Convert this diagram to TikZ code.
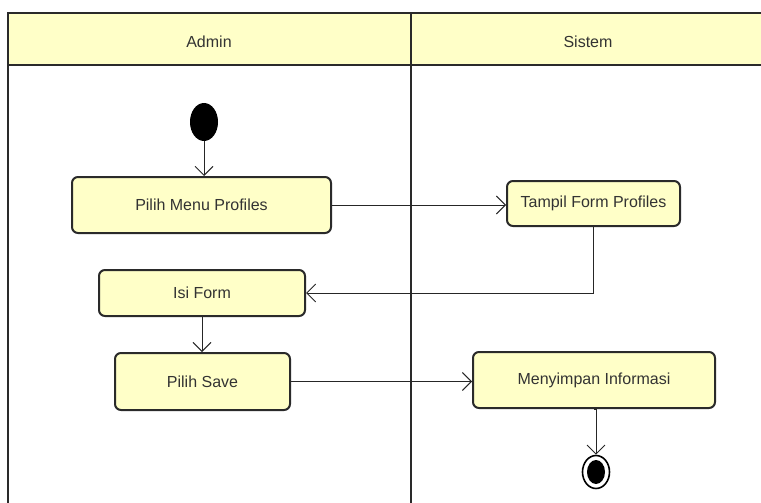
\documentclass[tikz,border=0pt]{standalone}
\usepackage{fontspec}
\setmainfont{Liberation Sans}
\usetikzlibrary{arrows.meta,shapes.geometric,calc}
\definecolor{laneyellow}{HTML}{FFFFC8}
\definecolor{boxyellow}{HTML}{FFFFC8}
\definecolor{edgedark}{HTML}{2A2A2A}
\tikzset{
  act/.style={draw=edgedark, line width=2pt, fill=boxyellow, rounded corners=6pt,
    font=\fontsize{16}{19}\selectfont, text=black!80, inner sep=0pt},
  flow/.style={draw=black!85, line width=0.9pt, -{Straight Barb[length=9pt,width=18pt,line width=0.9pt]}},
  lane/.style={draw=edgedark, line width=2.2pt},
  lanetitle/.style={font=\fontsize{16}{19}\selectfont, text=black!80}
}
\begin{document}
\begin{tikzpicture}[x=1pt,y=-1pt]
\useasboundingbox (0,0) rectangle (761,503);
% swimlane frame
\fill[laneyellow] (8,13) rectangle (761,65);
\draw[lane] (761,13) -- (8,13) -- (8,503);
\draw[lane] (8,65) -- (761,65);
\draw[lane] (411,13) -- (411,503);
\node[lanetitle] (admin) at (209,42) {Admin};
\node[lanetitle] (sistem) at (588,42) {Sistem};
% nodes
\node[ellipse, fill=black, minimum width=28pt, minimum height=38pt, inner sep=0pt] (start) at (204,122) {};
\node[act, minimum width=259pt, minimum height=56pt] (pmp) at (201.5,205) {Pilih Menu Profiles};
\node[act, minimum width=173pt, minimum height=45pt] (tfp) at (593.5,203.5) {Tampil Form Profiles};
\node[act, minimum width=206pt, minimum height=46pt] (isi) at (202,293) {Isi Form};
\node[act, minimum width=175pt, minimum height=57pt] (save) at (202.5,381.5) {Pilih Save};
\node[act, minimum width=242pt, minimum height=56pt] (simpan) at (594,380) {Menyimpan Informasi};
\node[ellipse, draw=black, line width=1.6pt, fill=white, minimum width=27pt, minimum height=33pt, inner sep=0pt] (end) at (596,472) {};
\node[ellipse, fill=black, minimum width=18pt, minimum height=24pt, inner sep=0pt] (endin) at (end.center) {};
% connectors
\draw[flow] (start.south) -- (start.south |- pmp.north);
\draw[flow] (pmp.east) -- (pmp.east -| tfp.west);
\draw[flow] (tfp.south) |- (isi.east);
\draw[flow] (isi.south) -- (isi.south |- save.north);
\draw[flow] (save.east) -- (save.east -| simpan.west);
\draw[flow] (simpan.south) -- (simpan.south -| end.north) -- (end.north);
\end{tikzpicture}
\end{document}
